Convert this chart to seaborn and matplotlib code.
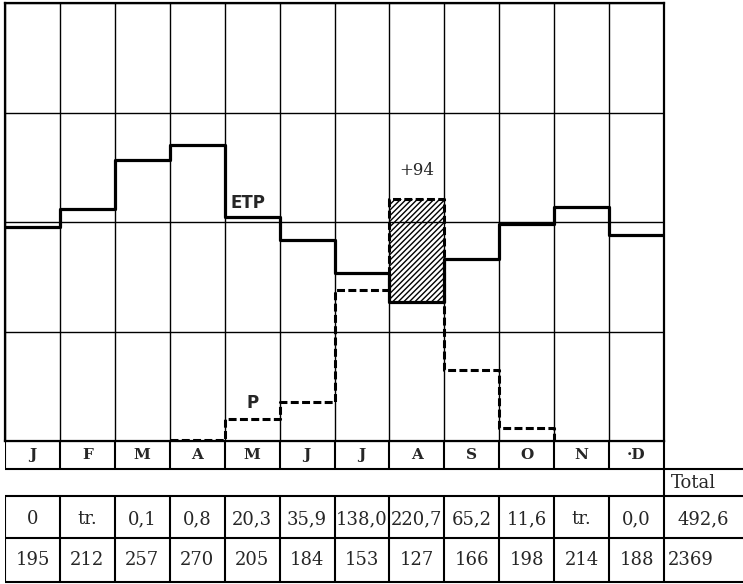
import numpy as np
import seaborn as sns
from matplotlib import pyplot as plt

# monthly data (mm)
months = ["J", "F", "M", "A", "M", "J", "J", "A", "S", "O", "N", "·D"]
etp = [195, 212, 257, 270, 205, 184, 153, 127, 166, 198, 214, 188]
p_vals = [0, 0, 0.1, 0.8, 20.3, 35.9, 138.0, 220.7, 65.2, 11.6, 0, 0.0]
p_labels = ["0", "tr.", "0,1", "0,8", "20,3", "35,9", "138,0", "220,7", "65,2", "11,6", "tr.", "0,0"]
etp_labels = ["195", "212", "257", "270", "205", "184", "153", "127", "166", "198", "214", "188"]
p_total = "492,6"
etp_total = "2369"

sns.set_theme(style="white")
plt.rcParams["hatch.linewidth"] = 1.0
serif = "DejaVu Serif"

W, H = 743, 584
fig = plt.figure(figsize=(W / 100, H / 100), dpi=100)
fig.patch.set_facecolor("white")

# chart area (pixel layout)
x0, x1, ytop, ybot = 5, 664, 3, 441
ax = fig.add_axes([x0 / W, 1 - ybot / H, (x1 - x0) / W, (ybot - ytop) / H])
n = len(months)

# ETP step line
edges = np.arange(n + 1)
sns.lineplot(x=edges, y=etp + [etp[-1]], drawstyle="steps-post", color="black",
             lw=2.3, ax=ax, legend=False)

# P step line, April -> October, dropping to zero at November
first, last = 3, 9
px = np.arange(first, last + 2)
py = p_vals[first:last + 1] + [0]
sns.lineplot(x=px, y=py, drawstyle="steps-post", color="black", lw=2.2,
             linestyle=(0, (2.6, 1.1)), ax=ax, legend=False)

# surplus in August
k = 7
ax.fill_between([k, k + 1], etp[k], p_vals[k], hatch="//////", facecolor="none",
                edgecolor="black", linewidth=0)
ax.text(k + 0.5, p_vals[k] + 26, f"+{p_vals[k] - etp[k]:.0f}", ha="center", va="center",
        fontsize=12, family=serif)

ax.text(4.1, etp[4] + 4, "ETP", ha="left", va="bottom", fontsize=12, fontweight="bold")
ax.text(4.51, 35, "P", ha="center", va="center", fontsize=12, fontweight="bold")

ax.set_xlim(0, n)
ax.set_ylim(0, 400)
ax.set_xticks(edges)
ax.set_yticks([0, 100, 200, 300, 400])
ax.grid(True, color="black", lw=1.0)
ax.tick_params(left=False, bottom=False, labelleft=False, labelbottom=False)
ax.set_xlabel("")
ax.set_ylabel("")
for s in ax.spines.values():
    s.set_visible(True)
    s.set_color("black")
    s.set_linewidth(1.6)

# table below (pixel rows)
unit = (x1 - x0) / n
tab = fig.add_axes([x0 / W, 0, (W - x0) / W, (H - ybot) / H])
tab.set_xlim(0, (W - x0) / unit)
tab.set_ylim(H, ybot)
tab.axis("off")
xmax = (W - x0) / unit
r_month, r_total, r_p, r_etp, r_end = 441, 469, 496, 538, 582
lw = 1.5
tab.hlines(r_month, 0, n, color="black", lw=lw)
tab.hlines(r_total, 0, xmax, color="black", lw=lw)
tab.hlines([r_p, r_etp, r_end], 0, xmax, color="black", lw=lw)
tab.vlines(np.arange(n + 1), r_month, r_total, color="black", lw=lw)
tab.vlines(np.arange(n + 1), r_p, r_end, color="black", lw=lw)
tab.vlines(n, r_total, r_p, color="black", lw=lw)

for i in range(n):
    tab.text(i + 0.5, (r_month + r_total) / 2, months[i], ha="center", va="center",
             fontsize=11, family=serif, fontweight="bold")
    tab.text(i + 0.5, (r_p + r_etp) / 2 + 2, p_labels[i], ha="center", va="center",
             fontsize=13, family=serif)
    tab.text(i + 0.5, (r_etp + r_end) / 2, etp_labels[i], ha="center", va="center",
             fontsize=13, family=serif)

tab.text(n + 0.12, (r_total + r_p) / 2, "Total", ha="left", va="center", fontsize=13,
         family=serif)
tab.text(n + 0.25, (r_p + r_etp) / 2 + 2, p_total, ha="left", va="center", fontsize=13,
         family=serif)
tab.text(n + 0.07, (r_etp + r_end) / 2, etp_total, ha="left", va="center", fontsize=13,
         family=serif)

fig.savefig("out.png", dpi=100)
